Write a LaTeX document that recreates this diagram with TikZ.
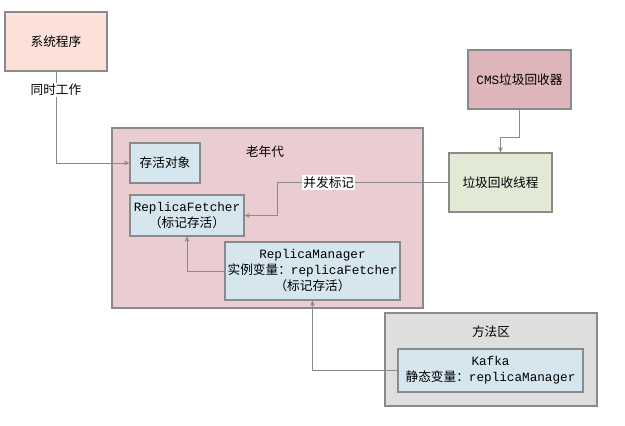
\documentclass[tikz,border=0pt]{standalone}
\usepackage{fontspec}
\setmainfont{Noto Sans CJK SC}
\setmonofont{Liberation Mono}
\usepackage{tikz}
\usetikzlibrary{calc,positioning,arrows.meta}

\definecolor{edgegray}{HTML}{8A8A8A}
\definecolor{peach}{HTML}{FCE1D8}
\definecolor{oldpink}{HTML}{E9CDD0}
\definecolor{paleblue}{HTML}{D5E6EE}
\definecolor{cmsred}{HTML}{DDB5BA}
\definecolor{palegreen}{HTML}{E2EAD6}
\definecolor{areagray}{HTML}{DEDEDE}

\begin{document}
\begin{tikzpicture}[x=0.75pt,y=-0.75pt,>={Stealth[length=4pt,width=3.5pt]},
  box/.style={draw=edgegray, line width=0.8pt, align=center, inner sep=1pt,
    font=\fontsize{9.5}{12}\selectfont},
  conn/.style={draw=edgegray, line width=0.7pt, ->},
  tag/.style={fill=white, inner sep=1pt, font=\fontsize{9.5}{12}\selectfont}]
\useasboundingbox (0,0) rectangle (625,425);
% outer regions
\node[box,fill=oldpink,minimum width=233.25pt,minimum height=135pt] (oldgen) at (267.5,218) {};
\node[box,fill=areagray,minimum width=159pt,minimum height=69.75pt] (method) at (491,359.5) {};
\node[box,draw=none,fill=none] (oldlbl) at (265,152) {老年代};
\node[box,draw=none,fill=none] (methodlbl) at (491,332) {方法区};
% boxes
\node[box,fill=peach,minimum width=76.5pt,minimum height=44.25pt] (sys) at (56,41.5) {系统程序};
\node[box,fill=cmsred,minimum width=77.25pt,minimum height=44.25pt] (cms) at (519.5,79.5) {\texttt{CMS}垃圾回收器};
\node[box,fill=palegreen,minimum width=77.25pt,minimum height=44.25pt] (thread) at (500.5,182.5) {垃圾回收线程};
\node[box,fill=paleblue,minimum width=52.5pt,minimum height=30pt] (alive) at (165,163) {存活对象};
\node[box,fill=paleblue,minimum width=85.5pt,minimum height=30.75pt] (fetcher) at (187,215.5)
  {\texttt{ReplicaFetcher}\\（标记存活）};
\node[box,fill=paleblue,minimum width=131.25pt,minimum height=43.5pt] (manager) at (312.5,271)
  {\texttt{ReplicaManager}\\实例变量：\texttt{replicaFetcher}\\（标记存活）};
\node[box,fill=paleblue,minimum width=138.75pt,minimum height=32.25pt] (kafka) at (490.5,370.5)
  {\texttt{Kafka}\\静态变量：\texttt{replicaManager}};
% connectors
\draw[conn] (sys.south) |- (alive.west) node[tag,pos=0.1] {同时工作};
\draw[conn] (cms.south) -- ++(0,28) -| (thread.north);
\draw[conn] (thread.west) -| ([xshift=24.75pt]fetcher.east) node[tag,pos=0.35] {并发标记} -- (fetcher.east);
\draw[conn] (manager.west) -| (fetcher.south);
\draw[conn] (kafka.west) -| (manager.south);
\end{tikzpicture}
\end{document}
